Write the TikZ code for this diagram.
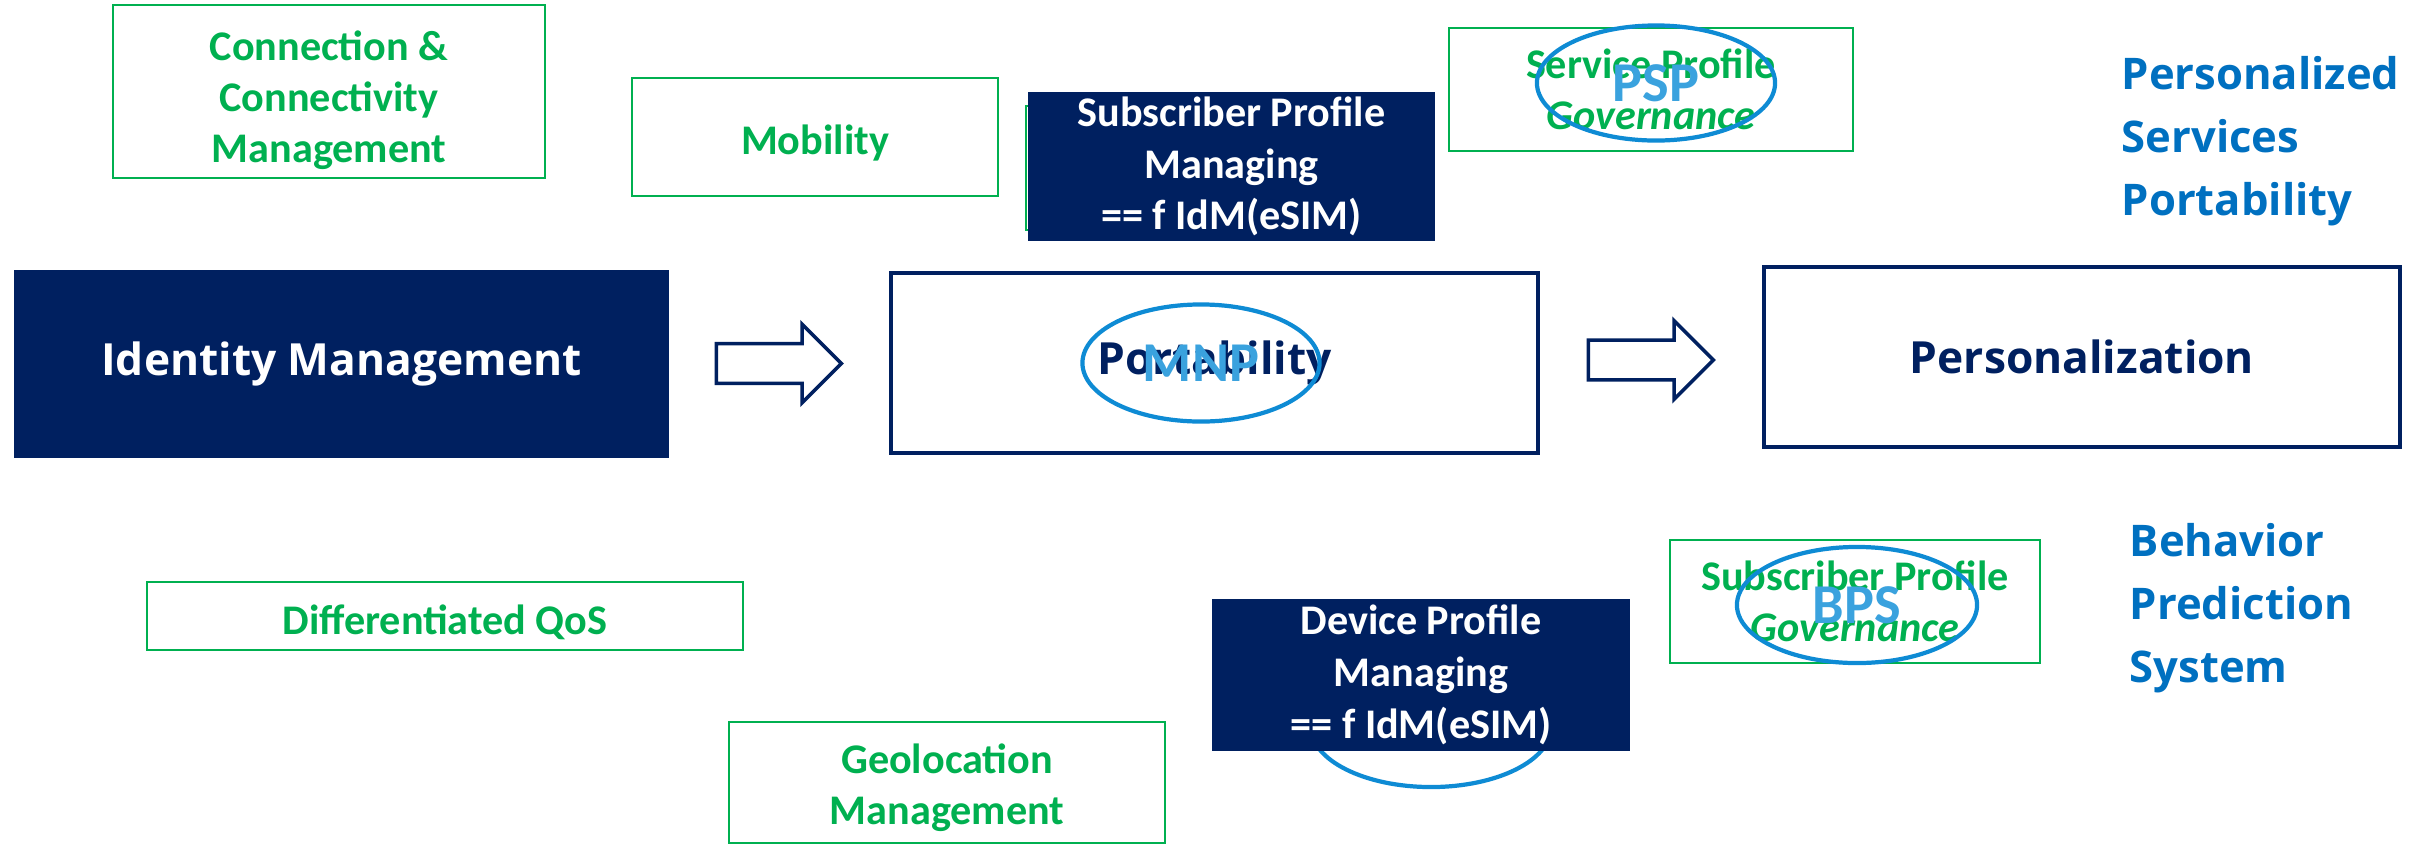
\documentclass[tikz,border=0pt]{standalone}
\usepackage{fontspec}
\setmainfont{Carlito}
\newfontfamily\opensans{Open Sans}
\usepackage{xcolor}
\usetikzlibrary{shapes.arrows}
\usetikzlibrary{shapes.geometric}
\definecolor{navy}{HTML}{002060}
\definecolor{grn}{HTML}{00B050}
\definecolor{sideblue}{HTML}{0070C0}
\definecolor{ringblue}{HTML}{0E8BD4}
\definecolor{tagblue}{HTML}{3AA2DE}
\tikzset{
  greenbox/.style={draw=grn, line width=0.6pt, text=grn, align=center, inner ysep=0pt,
    font=\bfseries\fontsize{12}{14.5}\selectfont,
    execute at begin node=\rule{0pt}{12pt}},
  greentext/.style={text=grn, align=center, inner sep=0pt,
    font=\bfseries\fontsize{12}{14.5}\selectfont},
  navybox/.style={draw=navy, fill=navy, text=white, align=center, inner ysep=0pt,
    font=\bfseries\fontsize{12}{14.7}\selectfont,
    execute at begin node=\rule{0pt}{11.5pt}},
  stagebox/.style={draw=navy, line width=1pt, text=navy,
    font=\opensans\bfseries\fontsize{12.6}{16}\selectfont},
  ring/.style={ellipse, draw=ringblue, line width=1.2pt, inner sep=0pt},
  tag/.style={text=tagblue, font=\bfseries\fontsize{16}{18}\selectfont},
  sidenote/.style={anchor=west, align=left, text=sideblue, inner sep=0pt,
    font=\opensans\bfseries\fontsize{12.4}{18}\selectfont},
  blockarrow/.style={single arrow, draw=navy, fill=white, line width=1pt,
    minimum height=1.25cm, minimum width=0.75cm, xshift=-0.1cm,
    single arrow head extend=0.195cm, inner xsep=0pt, inner ysep=0.18cm}
}
\begin{document}
\begin{tikzpicture}[x=0.01cm,y=-0.01cm]
  \useasboundingbox (0,0) rectangle (2433,851);

  \node (conn) [greenbox, minimum width=4.32cm, minimum height=1.73cm] at (329,91.5) {};
  \node (conntxt) [greentext] at ([yshift=-0.09cm]conn.center)
    {Connection \&\\Connectivity\\Management};
  \node (mob) [greenbox, minimum width=3.66cm, minimum height=1.18cm] at (815,137) {Mobility};
  \node (spmback) [greenbox, minimum width=2.74cm, minimum height=1.24cm] at (1163,168) {};
  \node (spm) [navybox, minimum width=4.05cm, minimum height=1.47cm] at (1231.5,166.5)
    {Subscriber Profile\\Managing\\== f IdM(eSIM)};
  \node (spg) [greenbox, minimum width=4.04cm, minimum height=1.23cm] at (1651,89.5)
    {Service Profile\\\textit{Governance}};
  \node (psp) [ring, tag, minimum width=2.38cm, minimum height=1.15cm] at (1656,83) {PSP};

  \node (idm) [stagebox, fill=navy, text=white, minimum width=6.51cm, minimum height=1.84cm]
    at (341.5,364) {Identity Management};
  \node (port) [stagebox, minimum width=6.47cm, minimum height=1.80cm] at (1214.5,363) {Portability};
  \node (mnp) [ring, tag, minimum width=2.37cm, minimum height=1.17cm] at (1201,363) {MNP};
  \node (pers) [stagebox, minimum width=6.36cm, minimum height=1.80cm] at (2082,357) {Personalization};

  \path (idm.east) -- (port.west) node (go1) [midway, blockarrow] {};
  \path (port.west -| port.east) -- (pers.west) node (go2) [midway, blockarrow] {};

  \node (psptxt) [sidenote] at (2121,141) {Personalized\\Services\\Portability};
  \node (bpstxt) [sidenote] at (2129,608) {Behavior\\Prediction\\System};

  \node (qos) [greenbox, minimum width=5.96cm, minimum height=0.68cm] at (445,616) {Differentiated QoS};
  \node (geo) [greenbox, minimum width=4.36cm, minimum height=1.21cm] at (947,782.5) {};
  \node (geotxt) [greentext] at ([yshift=-0.05cm]geo.center) {Geolocation\\Management};
  \node (devring) [ring, minimum width=2.40cm, minimum height=1.20cm] at (1431,727) {};
  \node (dev) [navybox, minimum width=4.16cm, minimum height=1.50cm] at (1421,675)
    {Device Profile\\Managing\\== f IdM(eSIM)};
  \node (spgb) [greenbox, minimum width=3.69cm, minimum height=1.23cm] at (1855,601.5)
    {Subscriber Profile\\\textit{Governance}};
  \node (bps) [ring, tag, minimum width=2.40cm, minimum height=1.16cm] at (1857,605) {BPS};
\end{tikzpicture}
\end{document}
